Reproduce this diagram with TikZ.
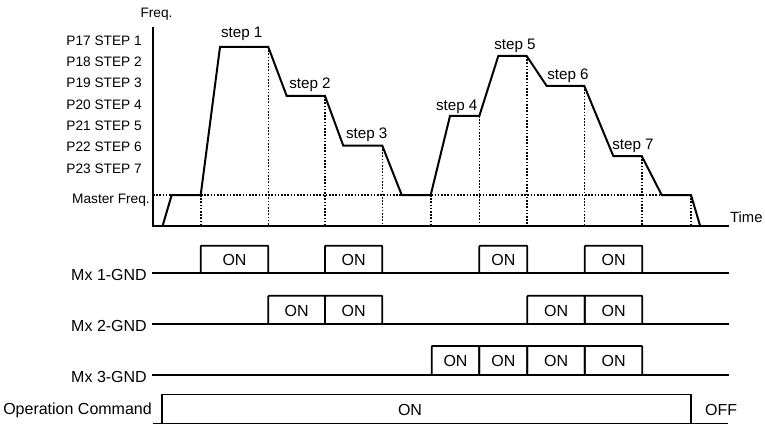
\documentclass[tikz,border=0pt]{standalone}
\usepackage{fontspec}
\setmainfont{Liberation Sans}
\begin{document}
\begin{tikzpicture}[x=1pt,y=-1pt,
  ax/.style={line width=2pt},
  curve/.style={line width=2pt, line join=miter},
  dots/.style={line width=1.6pt, dash pattern=on 1.6pt off 1.6pt},
  sig/.style={line width=1.8pt, rounded corners=0.8pt},
  lvl/.style={anchor=east, inner sep=0pt, font=\fontsize{13.7}{15}\selectfont},
  stp/.style={inner sep=0pt, font=\fontsize{15.2}{17}\selectfont},
  lab/.style={anchor=east, inner sep=0pt, font=\fontsize{16}{18}\selectfont},
  on/.style={inner sep=0pt, font=\fontsize{16}{18}\selectfont}]
\useasboundingbox (0,0) rectangle (765,425);

% dotted guides
\draw[dots] (153,195) -- (691,195);
\foreach \x/\y in {200.7/195,268.3/47,325/96,382.3/145.7,430.7/195,479.3/116,526.7/56,584.3/86,641.7/156,691/195}
  \draw[dots] (\x,\y) -- (\x,225);

% axes
\draw[ax] (153,27) -- (153,225.5) -- (729,225.5);

% frequency curve
\draw[curve] (162.7,225.5) -- (171.7,195) -- (200.7,195) -- (220,47) -- (268.3,47)
  -- (286.7,96) -- (325,96) -- (343.3,145.7) -- (382.3,145.7) -- (401.7,195)
  -- (430.7,195) -- (450,116) -- (479.3,116) -- (498.3,56) -- (526.7,56)
  -- (546.7,86) -- (584.3,86) -- (613.3,156) -- (641.7,156) -- (661.7,195)
  -- (691,195) -- (700,225.5);

% axis labels
\node[inner sep=0pt, font=\fontsize{13.7}{15}\selectfont] (freq) at (156.5,14) {Freq.};
\node[inner sep=0pt, anchor=west, font=\fontsize{14.8}{16}\selectfont] (time) at (730,217) {Time};
\node[lvl] (p17) at (142,41) {P17 STEP 1};
\node[lvl] (p18) at (142,62) {P18 STEP 2};
\node[lvl] (p19) at (142,83) {P19 STEP 3};
\node[lvl] (p20) at (142,105) {P20 STEP 4};
\node[lvl] (p21) at (142,126) {P21 STEP 5};
\node[lvl] (p22) at (142,147) {P22 STEP 6};
\node[lvl] (p23) at (142,169) {P23 STEP 7};
\node[lvl] (mf) at (150,200) {Master Freq.};

% step labels
\node[stp] (s1) at (241.7,34) {step 1};
\node[stp] (s2) at (310,85) {step 2};
\node[stp] (s3) at (366.7,135) {step 3};
\node[stp] (s4) at (456.7,107) {step 4};
\node[stp] (s5) at (515,46) {step 5};
\node[stp] (s6) at (568,76) {step 6};
\node[stp] (s7) at (633,146) {step 7};

% Mx1
\node[lab] (m1) at (147,274.5) {Mx 1-GND};
\draw[sig] (152,273.3) -- (729,273.3);
\foreach \a/\b in {200.7/268.3,325/382.3,479.3/527.3,584.8/642.3}{
  \draw[sig] (\a,273.3) -- (\a,245.7) -- (\b,245.7) -- (\b,273.3);
  \node[on] at ({(\a+\b)/2},260) {ON};
}
% Mx2
\node[lab] (m2) at (147,325.5) {Mx 2-GND};
\draw[sig] (152,324) -- (729,324);
\foreach \a/\b in {268.3/325,325/382.3,527.3/584.8,584.8/642.3}{
  \draw[sig] (\a,324) -- (\a,295.7) -- (\b,295.7) -- (\b,324);
  \node[on] at ({(\a+\b)/2},310.5) {ON};
}
% Mx3
\node[lab] (m3) at (147,376.5) {Mx 3-GND};
\draw[sig] (152,375) -- (729,375);
\foreach \a/\b in {431.7/479.3,479.3/527.3,527.3/584.8,584.8/642.3}{
  \draw[sig] (\a,375) -- (\a,346) -- (\b,346) -- (\b,375);
  \node[on] at ({(\a+\b)/2},361) {ON};
}
% Operation command
\node[lab] (oc) at (152,410) {Operation Command};
\draw[line width=1.2pt] (153,423.5) -- (728,423.5);
\draw[line width=1.3pt] (162.3,394.7) -- (690.7,394.7);
\draw[line width=2pt] (162.3,424) -- (162.3,394);
\draw[line width=2pt] (690.7,424) -- (690.7,394);
\node[on] (ocon) at (410,410) {ON};
\node[on, anchor=west] (off) at (705,410) {OFF};
\end{tikzpicture}
\end{document}
